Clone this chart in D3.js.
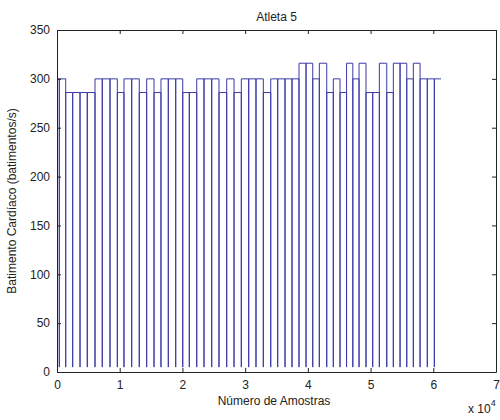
<!DOCTYPE html>
<html>
<head>
<meta charset="utf-8">
<script src="https://cdn.jsdelivr.net/npm/d3@7"></script>
<style>
  body { margin: 0; background: #fff; }
  svg { font-family: "Liberation Sans", Arial, sans-serif; }
</style>
</head>
<body>
<svg width="500" height="420"></svg>
<script>
// amostras onde o batimento cai (picos)
const spikeSamples = [370, 1390, 2500, 3670, 4830, 6060, 7220, 8450, 9620, 10680,
  11910, 13120, 14300, 15470, 16580, 17750, 18930, 20050, 21100, 22280,
  23440, 24670, 25830, 27060, 28230, 29390, 30570, 31730, 32900, 34080,
  35190, 36360, 37470, 38590, 39710, 40780, 41830, 43010, 44060, 45130,
  46170, 47170, 48160, 49270, 50340, 51400, 52580, 53630, 54700, 55770,
  56820, 57890, 59050, 60170];
const lastSample = 61230;
const spikeValue = 5;

// nível entre picos (um a mais que os picos)
const levels = [300, 300, 286, 286, 286, 286, 300, 300, 300, 286,
  300, 300, 286, 300, 286, 300, 300, 300, 286, 286,
  300, 300, 300, 286, 300, 286, 300, 300, 300, 286,
  300, 300, 300, 300, 316, 316, 300, 316, 286, 300,
  286, 316, 300, 316, 286, 286, 316, 286, 316, 316,
  300, 316, 300, 300, 300];

const xTicks = [0, 1, 2, 3, 4, 5, 6, 7];
const yTicks = [0, 50, 100, 150, 200, 250, 300, 350];

const svg = d3.select("svg");
const mLeft = 57, mRight = 496, mTop = 30, mBottom = 372;

const x = d3.scaleLinear().domain([0, 70000]).range([mLeft, mRight]);
const y = d3.scaleLinear().domain([0, 350]).range([mBottom, mTop]);

// construir os pontos da curva
const pts = [[0, levels[0]]];
spikeSamples.forEach((s, i) => {
    pts.push([s, levels[i]]);
    pts.push([s, spikeValue]);
    pts.push([s, levels[i + 1]]);
});
pts.push([lastSample, levels[levels.length - 1]]);

svg.append("path")
    .datum(pts)
    .attr("fill", "none")
    .attr("stroke", "#3a3aa6")
    .attr("stroke-width", 1)
    .attr("d", d3.line().x(d => x(d[0])).y(d => y(d[1])));

// eixos estilo matlab (ticks para dentro)
const tickLen = 4;
svg.append("g").attr("transform", `translate(0,${mBottom})`)
    .call(d3.axisBottom(x).tickValues(xTicks.map(d => d * 10000))
        .tickFormat((d, i) => xTicks[i]).tickSizeInner(-tickLen).tickSizeOuter(0).tickPadding(8));
svg.append("g").attr("transform", `translate(0,${mTop})`)
    .call(d3.axisTop(x).tickValues(xTicks.map(d => d * 10000))
        .tickFormat("").tickSizeInner(-tickLen).tickSizeOuter(0));
svg.append("g").attr("transform", `translate(${mLeft},0)`)
    .call(d3.axisLeft(y).tickValues(yTicks).tickSizeInner(-tickLen).tickSizeOuter(0).tickPadding(7));
svg.append("g").attr("transform", `translate(${mRight},0)`)
    .call(d3.axisRight(y).tickValues(yTicks).tickFormat("").tickSizeInner(-tickLen).tickSizeOuter(0));

svg.selectAll(".domain").attr("stroke", "#222");
svg.selectAll(".tick line").attr("stroke", "#222");
svg.selectAll(".tick text")
    .attr("font-size", "12px")
    .attr("font-family", "Liberation Sans, Arial, sans-serif")
    .attr("fill", "#222");

svg.append("text")
    .attr("x", (mLeft + mRight) / 2).attr("y", 21)
    .attr("text-anchor", "middle").attr("font-size", "12px").attr("fill", "#222")
    .text("Atleta 5");

svg.append("text")
    .attr("x", 274).attr("y", 405)
    .attr("text-anchor", "middle").attr("font-size", "12px").attr("fill", "#222")
    .text("Número de Amostras");

svg.append("text")
    .attr("transform", `translate(16,${(mTop + mBottom) / 2}) rotate(-90)`)
    .attr("text-anchor", "middle").attr("font-size", "12px").attr("fill", "#222")
    .text("Batimento Cardíaco (batimentos/s)");

const mult = svg.append("text")
    .attr("x", 468).attr("y", 413)
    .attr("font-size", "12px").attr("fill", "#222");
mult.append("tspan").text("x 10");
mult.append("tspan").attr("dy", -7).attr("font-size", "9px").text("4");
</script>
</body>
</html>
